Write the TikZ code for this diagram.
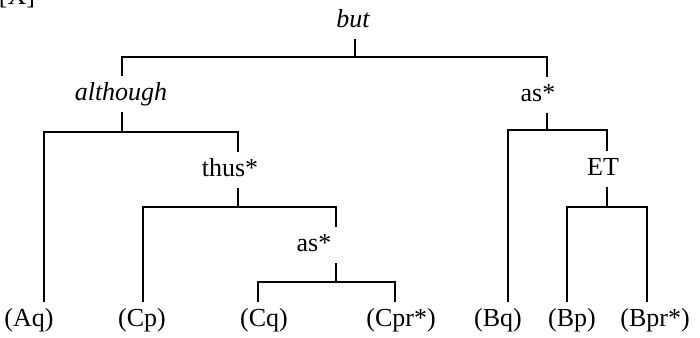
\documentclass[tikz,border=0pt]{standalone}
\usepackage{fontspec}
\setmainfont{Liberation Serif}
\usetikzlibrary{positioning}
\tikzset{
  conn/.style={line width=0.7pt},
  lbl/.style={inner xsep=0pt,inner ysep=3pt,text height=9pt,text depth=3pt,
              font=\fontsize{13}{15}\selectfont,anchor=base},
}

\begin{document}
\begin{tikzpicture}[x=0.5pt,y=-0.5pt]
        \useasboundingbox (0,0) rectangle (700,337);
        \node[lbl] (tag) at (17,4) {[X]};
        % connectives
        \node[lbl,font=\fontsize{13}{15}\selectfont\itshape] (but) at (353,27) {but};
        \node[lbl,font=\fontsize{13}{15}\selectfont\itshape] (although) at (121,100) {although};
        \node[lbl] (asB) at (538,101) {as*};
        \node[lbl] (thus) at (230,176) {thus*};
        \node[lbl] (asC) at (314,251) {as*};
        \node[lbl] (et) at (603,175) {ET};
        % propositions
        \node[lbl] (aq) at (29,326) {(Aq)};
        \node[lbl] (cp) at (142,326) {(Cp)};
        \node[lbl] (cq) at (264,326) {(Cq)};
        \node[lbl] (cpr) at (401,326) {(Cpr*)};
        \node[lbl] (bq) at (498,326) {(Bq)};
        \node[lbl] (bp) at (572,326) {(Bp)};
        \node[lbl] (bpr) at (655,326) {(Bpr*)};
        % where the bars meet
        \coordinate (j-but) at (355,57);
        \coordinate (j-although) at (122,132);
        \coordinate (j-asB) at (547,130);
        \coordinate (j-thus) at (238,207);
        \coordinate (j-asC) at (336,282);
        \coordinate (j-et) at (607,207);
        \coordinate (x-aq) at (44,302);
        \coordinate (x-cp) at (143,302);
        \coordinate (x-cq) at (258,302);
        \coordinate (x-cpr) at (395,302);
        \coordinate (x-bq) at (508,302);
        \coordinate (x-bp) at (567,302);
        \coordinate (x-bpr) at (647,302);
        \foreach \n in {but,although,asB,thus,asC,et}
          \draw[conn] (\n.south -| j-\n) -- (j-\n);
        \draw[conn] (although.north -| j-although) |- (j-but) -| (asB.north -| j-asB);
        \draw[conn] (aq.north -| x-aq) |- (j-although) -| (thus.north -| j-thus);
        \draw[conn] (cp.north -| x-cp) |- (j-thus) -| (asC.north -| j-asC);
        \draw[conn] (cq.north -| x-cq) |- (j-asC) -| (cpr.north -| x-cpr);
        \draw[conn] (bq.north -| x-bq) |- (j-asB) -| (et.north -| j-et);
        \draw[conn] (bp.north -| x-bp) |- (j-et) -| (bpr.north -| x-bpr);
      \end{tikzpicture}
\end{document}
